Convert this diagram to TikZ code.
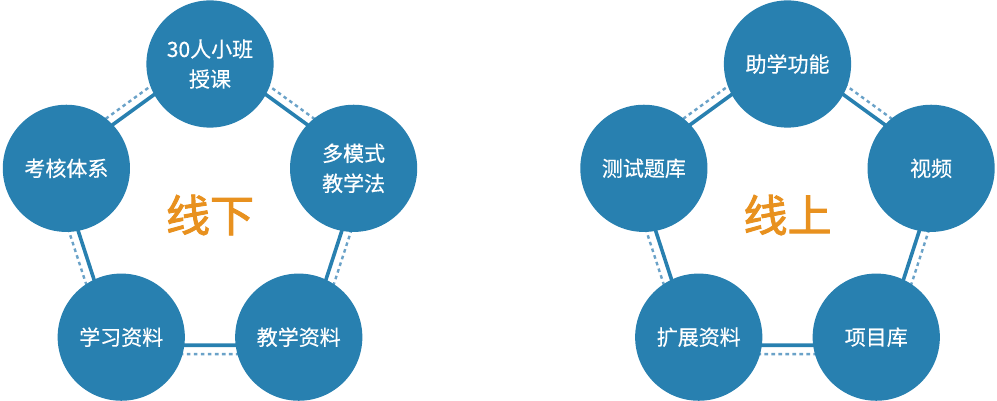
\documentclass[tikz,border=0pt]{standalone}
\usepackage{fontspec}
\newfontfamily\cjk{Noto Sans CJK SC}[FakeBold=2.2]
\newfontfamily\cjkm{Noto Sans CJK SC}[FakeBold=0.5]
\usetikzlibrary{calc}
\definecolor{circblue}{HTML}{2880B0}
\definecolor{dotblue}{HTML}{6AA2C8}
\definecolor{ctrorange}{HTML}{E8911F}
\tikzset{
  bubble/.style={circle, fill=circblue, minimum size=127.2pt, inner sep=0pt,
    text=white, font=\cjkm\fontsize{21pt}{30pt}\selectfont, align=center},
  solidedge/.style={draw=circblue, line width=3.6pt},
  dotedge/.style={draw=dotblue, line width=2.4pt, dash pattern=on 3.6pt off 3.4pt},
  centertext/.style={text=ctrorange, font=\cjk\fontsize{44pt}{44pt}\selectfont},
}
\begin{document}
\begin{tikzpicture}[x=1pt,y=-1pt]
\useasboundingbox (0,0) rectangle (997,401);
% pentagon centres
\coordinate (cL) at (210,215);
\coordinate (cR) at (787.5,215);
% vertices
\foreach \p/\c in {L/cL,R/cR}{
  \foreach \n/\a in {1/-90,2/-18,3/54,4/126,5/198}{
    \coordinate (\p v\n) at ($(\c)+(\a:151)$);
    \coordinate (\p s\n) at ($(\c)+(\a:161)$);
    \coordinate (\p d\n) at ($(\c)+(\a:172)$);
  }
}
% dotted outer edges
\draw[dotedge] (Ld1) -- (Ld2) -- (Ld3) -- (Ld4) -- (Ld5) -- cycle;
\draw[dotedge] (Rd1) -- (Rd2) -- (Rd3) -- (Rd4) -- (Rd5) -- cycle;
% solid edges
\draw[solidedge] (Ls1) -- (Ls2) -- (Ls3) -- (Ls4) -- (Ls5) -- cycle;
\draw[solidedge] (Rs1) -- (Rs2) -- (Rs3) -- (Rs4) -- (Rs5) -- cycle;
% left bubbles
\node[bubble] (a1) at (Lv1) {30人小班\\授课};
\node[bubble] (a2) at (Lv2) {多模式\\教学法};
\node[bubble] (a3) at (Lv3) {教学资料};
\node[bubble] (a4) at (Lv4) {学习资料};
\node[bubble] (a5) at (Lv5) {考核体系};
\node[centertext] (ta) at (cL) {线下};
% right bubbles
\node[bubble] (b1) at (Rv1) {助学功能};
\node[bubble] (b2) at (Rv2) {视频};
\node[bubble] (b3) at (Rv3) {项目库};
\node[bubble] (b4) at (Rv4) {扩展资料};
\node[bubble] (b5) at (Rv5) {测试题库};
\node[centertext] (tb) at (cR) {线上};
\end{tikzpicture}
\end{document}
